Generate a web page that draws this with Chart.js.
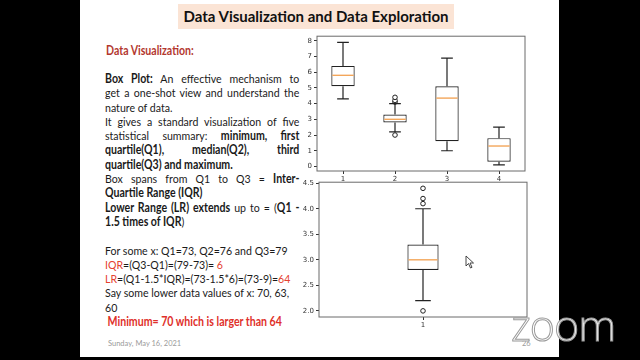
<!DOCTYPE html>
<html>
<head>
<meta charset="utf-8">
<script src="https://cdn.jsdelivr.net/npm/chart.js@4/dist/chart.umd.min.js"></script>
<style>
    body { margin: 0; width: 640px; height: 360px; background: #000; overflow: hidden; font-family: Lato, "Open Sans", sans-serif; }
    .slide { position: absolute; left: 80px; top: 0; width: 479px; height: 357px; background: #fff; }
    .title { position: absolute; left: 178px; top: 4px; width: 276px; height: 25px; background: #fbe4d5; font-weight: 700; font-size: 15px; line-height: 25px; text-align: center; color: #111; }
    .heading { position: absolute; left: 106px; top: 43px; font-weight: 700; font-size: 12.3px; color: #b3382f; transform: scaleX(0.86); transform-origin: left; }
    .txt { position: absolute; left: 105px; top: 72px; width: 226px; font-size: 12.3px; line-height: 14.3px; color: #1a1a1a; white-space: nowrap; transform: scaleX(0.86); transform-origin: left top; }
    .txt div { height: 14.3px; }
    .j { text-align: justify; text-align-last: justify; }
    b { font-weight: 700; }
    .r { color: #e5412f; }
    .red { color: #e0302a; font-weight: 700; padding-left: 3px; }
    .foot { position: absolute; top: 339px; font-size: 7.5px; color: #9a9a9a; }
    .zoom { position: absolute; left: 511px; top: 295px; font-family: "Open Sans", sans-serif; font-weight: 300; font-size: 43px; color: rgba(255,255,255,0.9); -webkit-text-stroke: 1px #9a9a9a; letter-spacing: -1px; }
    canvas { position: absolute; }
</style>
</head>
<body>
<div class="slide"></div>
<div class="title">Data Visualization and Data Exploration</div>
<div class="heading">Data Visualization:</div>
<div class="txt">
    <div class="j"><b>Box Plot:</b> An effective mechanism to</div>
    <div class="j">get a one-shot view and understand the</div>
    <div>nature of data.</div>
    <div class="j">It gives a standard visualization of five</div>
    <div class="j">statistical summary: <b>minimum, first</b></div>
    <div class="j"><b>quartile(Q1), median(Q2), third</b></div>
    <div><b>quartile(Q3) and maximum.</b></div>
    <div class="j">Box spans from Q1 to Q3 = <b>Inter-</b></div>
    <div><b>Quartile Range (IQR)</b></div>
    <div class="j"><b>Lower Range (LR) extends</b> up to = (<b>Q1 -</b></div>
    <div><b>1.5 times of IQR</b>)</div>
    <div></div>
    <div>For some x: Q1=73, Q2=76 and Q3=79</div>
    <div><span class="r">IQR</span>=(Q3-Q1)=(79-73)= <span class="r">6</span></div>
    <div><span class="r">LR</span>=(Q1-1.5*IQR)=(73-1.5*6)=(73-9)=<span class="r">64</span></div>
    <div>Say some lower data values of x: 70, 63,</div>
    <div>60</div>
    <div class="red">Minimum= 70 which is larger than 64</div>
</div>
<div class="foot" style="left:108px">Sunday, May 16, 2021</div>
<div class="foot" style="left:522px">26</div>
<canvas id="top" width="240" height="155" style="left:292px; top:30px"></canvas>
<canvas id="bottom" width="240" height="155" style="left:292px; top:176px"></canvas>
<div class="zoom">zoom</div>
<svg style="position:absolute; left:465px; top:255px" width="10" height="14">
    <path d="M1 1 L1 11 L3.5 8.5 L5.5 13 L7 12.3 L5 8 L8.5 8 Z" fill="#fff" stroke="#333" stroke-width="0.9"/>
</svg>

<script>
// iris measurements: four features (top), sepal width alone (bottom)
const topCategories = ['1', '2', '3', '4'];
const topWhiskerLow = [4.3, 2.2, 1.0, 0.1];
const topQ1 = [5.1, 2.8, 1.6, 0.3];
const topMedian = [5.8, 3.0, 4.35, 1.3];
const topQ3 = [6.4, 3.3, 5.1, 1.8];
const topWhiskerHigh = [7.9, 4.0, 6.9, 2.5];
const topOutliers = [[], [2.0, 4.1, 4.2, 4.4], [], []];
const topTicks = [0, 1, 2, 3, 4, 5, 6, 7, 8];

const bottomCategories = ['1'];
const bottomWhiskerLow = [2.2];
const bottomQ1 = [2.8];
const bottomMedian = [3.0];
const bottomQ3 = [3.3];
const bottomWhiskerHigh = [4.0];
const bottomOutliers = [[2.0, 4.1, 4.2, 4.4]];
const bottomTicks = [2.0, 2.5, 3.0, 3.5, 4.0, 4.5];

function boxChart(id, cats, low, q1, med, q3, high, outs, ticks, cfg) {
    const parts = {
        id: 'boxParts',
        afterDatasetsDraw(chart) {
            const { ctx, chartArea: a, scales: { y } } = chart;
            ctx.save();
            chart.getDatasetMeta(0).data.forEach((bar, i) => {
                const x = bar.x, w = bar.width;
                const yl = y.getPixelForValue(low[i]), yh = y.getPixelForValue(high[i]);
                ctx.strokeStyle = '#222';
                ctx.lineWidth = 1.2;
                ctx.beginPath();
                ctx.moveTo(x, y.getPixelForValue(q3[i])); ctx.lineTo(x, yh);
                ctx.moveTo(x, y.getPixelForValue(q1[i])); ctx.lineTo(x, yl);
                ctx.moveTo(x - w / 4, yh); ctx.lineTo(x + w / 4, yh);
                ctx.moveTo(x - w / 4, yl); ctx.lineTo(x + w / 4, yl);
                ctx.stroke();
                const ym = y.getPixelForValue(med[i]);
                ctx.strokeStyle = '#f3a65a';
                ctx.lineWidth = 1.4;
                ctx.beginPath();
                ctx.moveTo(x - w / 2 + 1, ym); ctx.lineTo(x + w / 2 - 1, ym);
                ctx.stroke();
            });
            ctx.strokeStyle = '#6a6a6a';
            ctx.lineWidth = 1;
            ctx.strokeRect(a.left, a.top, a.right - a.left, a.bottom - a.top);
            ctx.restore();
        }
    };

    const tickFont = { family: 'DejaVu Sans', size: 7 };
    const grid = { drawOnChartArea: false, drawTicks: true, tickLength: 3, color: '#333', offset: false };

    new Chart(document.getElementById(id), {
        type: 'bar',
        data: {
            labels: cats,
            datasets: [{
                data: q1.map((v, i) => [v, q3[i]]),
                backgroundColor: '#fff',
                borderColor: '#222',
                borderWidth: 1.2,
                borderSkipped: false,
                barPercentage: cfg.boxWidth,
                categoryPercentage: 1
            }, {
                type: 'line',
                data: outs.flatMap((list, i) => list.map(v => ({ x: cats[i], y: v }))),
                showLine: false,
                pointRadius: 2.3,
                pointBackgroundColor: '#fff',
                pointBorderColor: '#222',
                pointBorderWidth: 1
            }]
        },
        options: {
            responsive: false,
            animation: false,
            layout: { padding: { top: 5, right: cfg.padRight, left: 0, bottom: 0 } },
            plugins: { legend: { display: false }, tooltip: { enabled: false } },
            scales: {
                x: {
                    grid: grid,
                    border: { display: false },
                    ticks: { font: tickFont, color: '#333', padding: 1 },
                    afterFit: s => { s.height = 14; }
                },
                y: {
                    min: cfg.min,
                    max: cfg.max,
                    grid: grid,
                    border: { display: false },
                    ticks: { font: tickFont, color: '#333', padding: 2, callback: v => v.toFixed(cfg.decimals) },
                    afterBuildTicks: s => { s.ticks = ticks.map(v => ({ value: v })); },
                    afterFit: s => { s.width = cfg.axisWidth; }
                }
            }
        },
        plugins: [parts]
    });
}

boxChart('top', topCategories, topWhiskerLow, topQ1, topMedian, topQ3, topWhiskerHigh, topOutliers, topTicks,
    { boxWidth: 0.45, min: -0.29, max: 8.29, decimals: 0, axisWidth: 25, padRight: 7 });
boxChart('bottom', bottomCategories, bottomWhiskerLow, bottomQ1, bottomMedian, bottomQ3, bottomWhiskerHigh, bottomOutliers, bottomTicks,
    { boxWidth: 0.15, min: 1.88, max: 4.52, decimals: 1, axisWidth: 27, padRight: 4 });
</script>
</body>
</html>
